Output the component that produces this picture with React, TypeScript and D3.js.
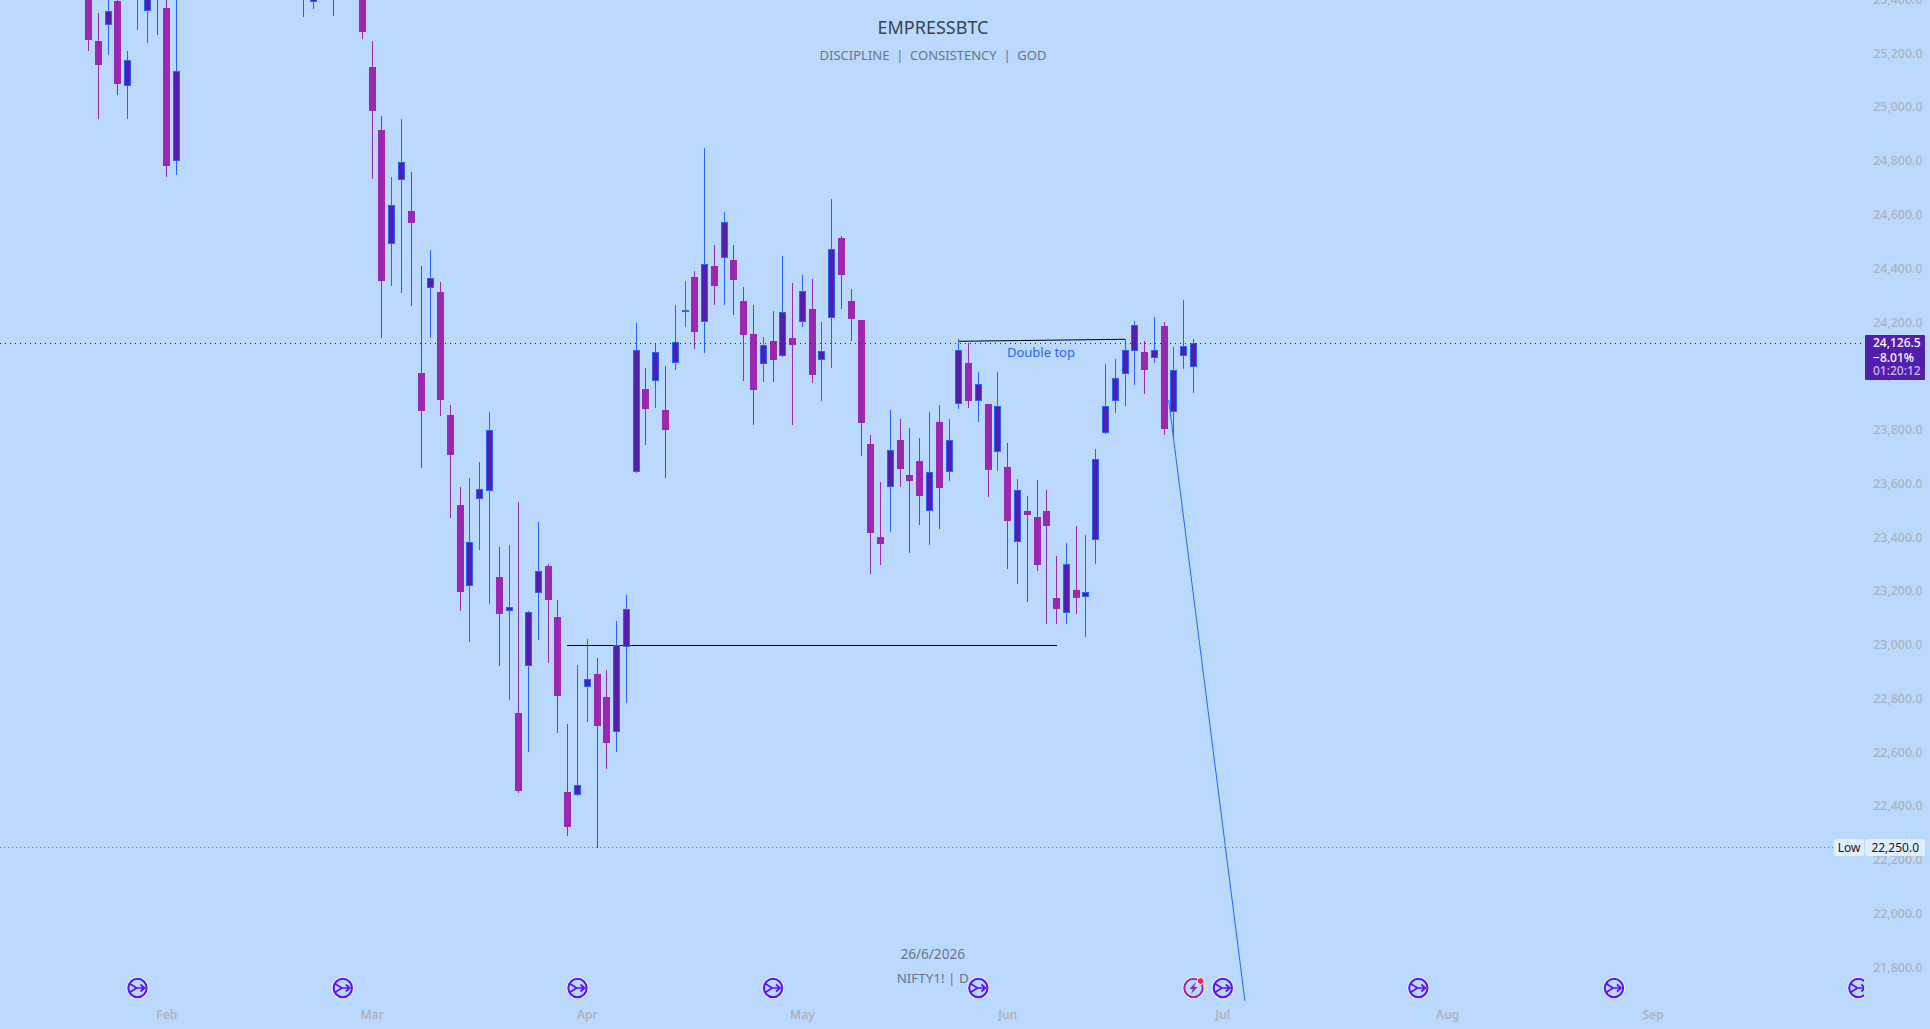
import React, { useEffect, useRef } from 'react';
import * as d3 from 'd3';

const WIDTH = 1930;
const HEIGHT = 1029;
const PANE_RIGHT = 1864;
const FONT = "'Noto Sans', sans-serif";

const BG = '#bad9fd';
const UP_FILL = '#531eae';
const UP_LINE = '#2962ff';
const DOWN = '#9c27b0';
const AXIS_TEXT = '#aeb2bd';

// bars that have some part on screen, the others are above the top edge
const barIndex = [
  0, 1, 2, 3, 4, 5, 6, 7, 8, 9, 22, 23, 25, 28, 29, 30, 31, 32, 33, 34, 35, 36, 37, 38, 39, 40, 41, 42, 43, 44,
  45, 46, 47, 48, 49, 50, 51, 52, 53, 54, 55, 56, 57, 58, 59, 60, 61, 62, 63, 64, 65, 66, 67, 68, 69, 70, 71, 72, 73, 74,
  75, 76, 77, 78, 79, 80, 81, 82, 83, 84, 85, 86, 87, 88, 89, 90, 91, 92, 93, 94, 95, 96, 97, 98, 99, 100, 101, 102, 103, 104,
  105, 106, 107, 108, 109, 110, 111, 112, 113,
];
const opens = [
  25500, 25251, 25310.5, 25400, 25083.5, 25440, 25364, 25560, 25374, 24804.5, 25560, 25397, 25560, 25480, 25154.5, 24920, 24497, 24735, 24619, 24016.5, 24332, 24317.5, 23860, 23525, 23223.5, 23547.5, 23577, 23256.5, 23130.5, 22751.5,
  22926, 23198, 23298, 23108, 22457, 22446, 22847.5, 22896.5, 22810, 22680, 22997.5, 23647, 23957, 23986, 23878.5, 24054, 24243, 24373, 24207, 24414, 24445, 24436.5, 24284, 24161, 24049.5, 24135, 24079.5, 24146, 24206, 24254,
  24064.5, 24220.5, 24518, 24284, 24213, 23752, 23406, 23593, 23767, 23636.5, 23688.5, 23504, 23834, 23648, 23900.5, 24053, 23912, 23900.5, 23722, 23666.5, 23387.5, 23502.5, 23480.5, 23502.5, 23179, 23124.5, 23209, 23184, 23395, 23794,
  23913, 24012.5, 24099, 24094, 24072, 24191, 23871, 24079.5, 24038.5,
];
const highs = [
  25560, 25355, 25480, 25410, 25214, 25600, 25520, 25600, 25420, 25450, 25620, 25470, 25620, 25520, 25251, 24972, 24745, 24959.5, 24764, 24414, 24473.5, 24354.5, 23897, 23591.5, 23626, 23684.5, 23870.5, 23368, 23376, 23535.5,
  23130, 23461, 23306, 23171.5, 22710.5, 22930, 23027, 22956.5, 22911, 23093, 23190, 24202.5, 24035, 24128, 24042, 24269, 24358.5, 24395.5, 24853, 24492, 24615, 24492, 24336, 24269, 24150, 24246.5, 24451.5, 24351, 24380.5, 24365.5,
  24206, 24663.5, 24525.5, 24328.5, 24213, 23785.5, 23610.5, 23878.5, 23845, 23811.5, 23774, 23871, 23897, 23845, 24142.5, 24127.5, 24020, 23900.5, 24020, 23755.5, 23621.5, 23558.5, 23618, 23581, 23335.5, 23383.5, 23447, 23413.5, 23733.5, 24049.5,
  24068, 24142.5, 24209.5, 24135, 24224.5, 24206, 24113, 24287.5, 24142.5,
];
const lows = [
  25214, 24961, 25199, 25050, 24961, 25292, 25245, 25273.5, 24745, 24752.5, 25341.5, 25370, 25345, 25258.5, 24737.5, 24146, 24341, 24313.5, 24265.5, 23663, 24148, 23856, 23477, 23130.5, 23015, 23357.5, 23157, 22926, 22799.5, 22454,
  22605.5, 23023, 22937.5, 22677.5, 22293.5, 22443, 22717, 22250, 22543, 22605.5, 22789, 23645, 23748, 23886.5, 23626, 24027, 24187, 24105.5, 24090.5, 24269, 24269, 24232, 23986.5, 23822.5, 23982.5, 23982.5, 24075.5, 23822.5, 24187, 23979,
  23912, 24034.5, 24254, 24135, 23707.5, 23268.5, 23302, 23424.5, 23592, 23346.5, 23450.5, 23376, 23435.5, 23614.5, 23882, 23886, 23834, 23555, 23651.5, 23287, 23231, 23164, 23279.5, 23082.5, 23082.5, 23082.5, 23119.5, 23034, 23305.5, 23790,
  23867, 23893.5, 23971.5, 23938, 24053, 23785.5, 23774, 24031, 23941.5,
];
const closes = [
  25255, 25162, 25362.5, 25091, 25180, 25520, 25450, 25450, 24786, 25139.5, 25450, 25420, 25450, 25284.5, 24990.5, 24358, 24641, 24801, 24574, 23875.5, 24369.5, 23915.5, 23711, 23201, 23387, 23585, 23804, 23120, 23145, 22461,
  23126.5, 23279, 23171.5, 22814, 22326.5, 22483.5, 22878, 22702.5, 22640, 23004, 23138.5, 24101.5, 23882.5, 24093.5, 23804, 24131, 24250.5, 24168.5, 24420.5, 24339.5, 24576.5, 24362, 24157.5, 23953, 24120, 24064.5, 24243, 24120, 24321, 24008.5,
  24098, 24477.5, 24380.5, 24217, 23830, 23421, 23380, 23729.5, 23659, 23614.5, 23558.5, 23648, 23588, 23767, 24101.5, 23912, 23975, 23655, 23893.5, 23465.5, 23581, 23488, 23302, 23447, 23138, 23305.5, 23179, 23201.5, 23696, 23893.5,
  23997.5, 24101.5, 24194.5, 24027, 24101.5, 23807.5, 24027, 24116.5, 24126.5,
];

const priceTicks = [
  21800, 22000, 22200, 22400, 22600, 22800, 23000, 23200, 23400, 23600, 23800, 24000, 24200, 24400, 24600, 24800, 25000, 25200, 25400,
];
const timeLabels = ['Feb', 'Mar', 'Apr', 'May', 'Jun', 'Jul', 'Aug', 'Sep'];
const timeBars = [8, 29, 51, 73, 94, 116, 139, 160];
const eventBars = [5, 26, 50, 70, 91, 116, 136, 156, 181];
const earningsBar = 113;

const LAST_PRICE = 24126.5;
const LOW_PRICE = 22250;

const App: React.FC = () => {
  const ref = useRef<SVGSVGElement>(null);

  useEffect(() => {
    const svg = d3.select(ref.current);
    svg.selectAll('*').remove();

    const x = d3.scaleLinear().domain([0, 113]).range([88.6, 1193.5]);
    const y = d3.scaleLinear().domain([LOW_PRICE, LAST_PRICE]).range([847.7, 343.3]);
    const col = (i: number) => Math.floor(x(i));

    svg.append('rect').attr('width', WIDTH).attr('height', HEIGHT).attr('fill', BG);

    svg.append('defs').append('clipPath').attr('id', 'pane')
      .append('rect').attr('width', PANE_RIGHT).attr('height', HEIGHT);
    const pane = svg.append('g').attr('clip-path', 'url(#pane)');

    // watermark texts
    const mark = pane.append('g').attr('text-anchor', 'middle').attr('font-family', FONT);
    mark.append('text').attr('x', 933).attr('y', 33.5).attr('font-size', 18).attr('fill', '#3b4250').text('EMPRESSBTC');
    mark.append('text').attr('x', 933).attr('y', 60).attr('font-size', 13).attr('fill', '#67768e')
      .style('white-space', 'pre').text('DISCIPLINE  |  CONSISTENCY  |  GOD');
    mark.append('text').attr('x', 932.7).attr('y', 959).attr('font-size', 13.6).attr('fill', '#67768e').text('26/6/2026');
    mark.append('text').attr('x', 932.7).attr('y', 983).attr('font-size', 13.4).attr('fill', '#67768e').text('NIFTY1! | D');

    // drawings sit under the candles
    const trend = d3.line<[number, number]>().x((d) => x(d[0])).y((d) => y(d[1]));
    pane.append('path').datum([[48.9, 23002.3], [99, 23002.3]] as [number, number][])
      .attr('d', trend).attr('fill', 'none').attr('stroke', '#000').attr('shape-rendering', 'crispEdges');
    pane.append('path').datum([[89, 24134], [106, 24141.5]] as [number, number][])
      .attr('d', trend).attr('fill', 'none').attr('stroke', '#000');
    pane.append('path').datum([[110.46, 23915.5], [118.26, 21680.5]] as [number, number][])
      .attr('d', trend).attr('fill', 'none').attr('stroke', UP_LINE);
    pane.append('text').attr('x', x(97.4)).attr('y', y(24094) + 5).attr('text-anchor', 'middle')
      .attr('font-family', FONT).attr('font-size', 13).attr('fill', UP_LINE).text('Double top');

    const bars = barIndex.map((b, i) => ({ b, o: opens[i], h: highs[i], l: lows[i], c: closes[i] }));
    const candles = pane.append('g').attr('shape-rendering', 'crispEdges');

    candles.selectAll('.wick').data(bars).join('rect').attr('class', 'wick')
      .attr('x', (d) => col(d.b))
      .attr('width', 1)
      .attr('y', (d) => Math.round(y(d.h)))
      .attr('height', (d) => Math.max(1, Math.round(y(d.l)) - Math.round(y(d.h))))
      .attr('fill', (d) => (d.c >= d.o ? UP_LINE : DOWN));

    candles.selectAll('.body').data(bars).join('rect').attr('class', 'body')
      .attr('x', (d) => (d.c >= d.o ? col(d.b) - 2.5 : col(d.b) - 3))
      .attr('width', (d) => (d.c >= d.o ? 6 : 7))
      .attr('y', (d) => Math.round(y(Math.max(d.o, d.c))) + (d.c >= d.o ? 0.5 : 0))
      .attr('height', (d) => Math.max(1, Math.round(y(Math.min(d.o, d.c))) - Math.round(y(Math.max(d.o, d.c)))) - (d.c >= d.o ? 1 : 0))
      .attr('fill', (d) => (d.c >= d.o ? UP_FILL : DOWN))
      .attr('stroke', (d) => (d.c >= d.o ? UP_LINE : 'none'));

    // last price and session low dotted lines
    pane.append('line').attr('x1', 0).attr('x2', PANE_RIGHT).attr('y1', Math.floor(y(LAST_PRICE)) + 0.5).attr('y2', Math.floor(y(LAST_PRICE)) + 0.5)
      .attr('stroke', '#3f10a0').attr('stroke-dasharray', '1 4');
    pane.append('line').attr('x1', 0).attr('x2', PANE_RIGHT).attr('y1', Math.floor(y(LOW_PRICE)) + 0.5).attr('y2', Math.floor(y(LOW_PRICE)) + 0.5)
      .attr('stroke', '#787b86').attr('stroke-dasharray', '1 3');

    // event markers along the bottom
    const marks = pane.selectAll('.event').data(eventBars).join('g').attr('class', 'event')
      .attr('transform', (d) => `translate(${x(d)},988)`);
    marks.append('circle').attr('r', 11).attr('fill', '#fff');
    marks.append('circle').attr('r', 9.2).attr('fill', BG).attr('stroke', '#5a10ff').attr('stroke-width', 2.1);
    marks.append('path').attr('d', 'M-8,-4.5 L-1,0 L7,0 M-8,4.5 L-1,0 M3,-3.5 L7,0 L3,3.5')
      .attr('fill', 'none').attr('stroke', '#5a10ff').attr('stroke-width', 1.7);

    const earn = pane.append('g').attr('transform', `translate(${x(earningsBar)},988)`);
    earn.append('circle').attr('r', 11).attr('fill', '#fff');
    earn.append('circle').attr('r', 9.2).attr('fill', BG).attr('stroke', '#9c27b0').attr('stroke-width', 2.1);
    earn.append('path').attr('d', 'M2.5,-6 L-4,1 L-0.5,1 L-2.5,6 L4,-1 L0.5,-1 Z').attr('fill', '#7b2ac8');
    earn.append('circle').attr('cx', 7).attr('cy', -7).attr('r', 3.4).attr('fill', '#f7263f').attr('stroke', '#fff');

    // price axis
    const yAxis = d3.axisRight(y).tickValues(priceTicks).tickSize(0).tickFormat((d) => d3.format(',.1f')(d as number));
    const priceAxis = svg.append('g').attr('transform', 'translate(0,-1.5)').call(yAxis);
    priceAxis.select('.domain').remove();
    priceAxis.selectAll('text').attr('x', 1922.5).attr('dy', '0.32em').attr('text-anchor', 'end')
      .attr('font-family', FONT).attr('font-size', 12.4).attr('font-weight', 500).attr('fill', AXIS_TEXT);

    // time axis
    const xAxis = d3.axisBottom(x).tickValues(timeBars).tickSize(0).tickFormat((_, i) => timeLabels[i]);
    const timeAxis = svg.append('g').attr('transform', 'translate(-0.5,1003.5)').call(xAxis);
    timeAxis.select('.domain').remove();
    timeAxis.selectAll('text').attr('y', 7).attr('dy', '0.71em')
      .attr('font-family', FONT).attr('font-size', 12).attr('font-weight', 600).attr('fill', AXIS_TEXT);

    // last price box
    const last = svg.append('g').attr('font-family', FONT).attr('font-size', 12).attr('font-weight', 500);
    last.append('rect').attr('x', 1865).attr('y', 335).attr('width', 60).attr('height', 45).attr('rx', 1).attr('fill', UP_FILL);
    last.append('text').attr('x', 1873).attr('y', 347).attr('fill', '#fff').text(d3.format(',.1f')(LAST_PRICE));
    last.append('text').attr('x', 1873).attr('y', 361.5).attr('fill', '#fff').text('\u22128.01%');
    last.append('text').attr('x', 1873).attr('y', 375).attr('fill', '#c9bbe6').text('01:20:12');

    // low label
    const low = svg.append('g').attr('font-family', FONT).attr('font-size', 12).attr('fill', '#131722');
    low.append('rect').attr('x', 1834).attr('y', 839).attr('width', 30).attr('height', 17).attr('rx', 2).attr('fill', '#e0eefe');
    low.append('rect').attr('x', 1865).attr('y', 839).attr('width', 60).attr('height', 17).attr('rx', 2).attr('fill', '#e0eefe');
    low.append('text').attr('x', 1849).attr('y', 852).attr('text-anchor', 'middle').text('Low');
    low.append('text').attr('x', 1919).attr('y', 852).attr('text-anchor', 'end').text(d3.format(',.1f')(LOW_PRICE));
  }, []);

  return (
    <svg
      ref={ref}
      width={WIDTH}
      height={HEIGHT}
      style={{ position: 'absolute', left: 0, top: 0, display: 'block' }}
    />
  );
};

export default App;
